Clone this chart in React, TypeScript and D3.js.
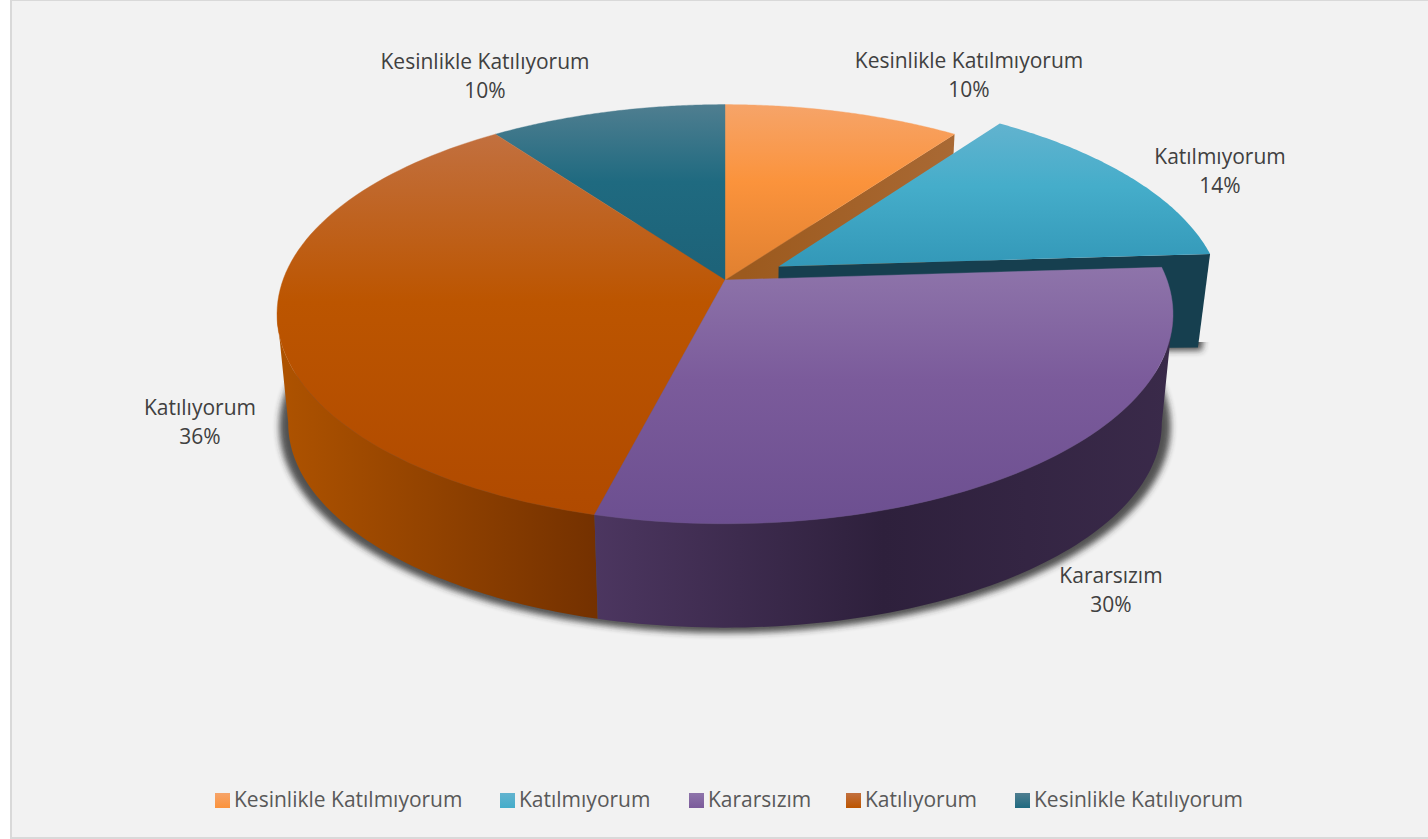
import React from "react";
import * as d3 from "d3";

const categories = ["Kesinlikle Katılmıyorum", "Katılmıyorum", "Kararsızım", "Katılıyorum", "Kesinlikle Katılıyorum"];
const values = [10, 14, 30, 36, 10];
const explode = [0, 0.14, 0, 0, 0];
const topLight = ["#f6a469", "#62b3cf", "#8e74aa", "#c2703f", "#4f7e90"];
const topBase = ["#fb933c", "#45adca", "#7b5b9b", "#bc5500", "#1f6a80"];
const topDark = ["#e08030", "#3398b8", "#6c4f90", "#b04a00", "#1d6278"];
const labelX = [969, 1220, 1111, 200, 485];
const labelY = [60.5, 156.5, 575.5, 407.5, 61.5];
const legendSwatchX = [215, 500, 689, 846, 1015];

const FONT = "'Open Sans', sans-serif";
const cx = 725, cy = 280, S = 442, K = 204, P = 0.163;
const DROP = 110, F = 0.975;
const TANGENT = Math.acos(-0.16);

const arcs = d3.pie<number>().sort(null).startAngle(0).endAngle(2 * Math.PI)(values);
const line = d3.line<[number, number]>();

function project(t: number, r: number, i: number): [number, number] {
  const mid = (arcs[i].startAngle + arcs[i].endAngle) / 2;
  const X = r * Math.sin(t) + explode[i] * Math.sin(mid);
  const Z = r * Math.cos(t) + explode[i] * Math.cos(mid);
  const w = 1 + P * Z;
  return [cx + (S * X) / w, cy - (K * Z) / w];
}
const lower = ([x, y]: [number, number]): [number, number] => [cx + (x - cx) * F, cy + DROP + (y - cy) * F];
// the exploded slice sits further back, so its lower edge is flatter and higher
const lowerExploded = ([x, y]: [number, number]): [number, number] => [cx + (x - cx) * F, cy + 76 + (y - cy) * 0.33];

function rim(a: number, b: number, i: number): [number, number][] {
  return d3.range(0, 81).map((k) => project(a + ((b - a) * k) / 80, 1, i));
}
const closed = (pts: [number, number][]) => line(pts) + "Z";

function topPath(i: number) {
  return closed([project(0, 0, i), ...rim(arcs[i].startAngle, arcs[i].endAngle, i)]);
}
function wallPath(a: number, b: number, i: number) {
  const top = rim(a, b, i);
  return closed([...top, ...top.map(lower).reverse()]);
}
function cutFace(t: number, i: number, low: typeof lower) {
  const a = project(0, 0, i), b = project(t, 1, i);
  return closed([a, b, low(b), low(a)]);
}
const shadowRim = d3.range(0, 121).map((k) => {
  const [x, y] = project((k / 120) * 2 * Math.PI, 1, 0);
  return [cx + (x - cx) * 0.995, cy + DROP + 3 + (y - cy) * 0.985] as [number, number];
});

export default function App() {
  const depth = [0, 1, 2, 3, 4];
  return (
    <svg width={1428} height={839} style={{ position: "absolute", left: 0, top: 0, background: "#fff" }}>
      <defs>
        {depth.map((i) => (
          <linearGradient key={i} id={`top${i}`} x1="0" y1="0" x2="0" y2="1">
            <stop offset="0" stopColor={topLight[i]} />
            <stop offset="0.44" stopColor={topBase[i]} />
            <stop offset="1" stopColor={topDark[i]} />
          </linearGradient>
        ))}
        {depth.map((i) => (
          <linearGradient key={i} id={`leg${i}`} x1="0" y1="0" x2="0" y2="1">
            <stop offset="0" stopColor={topLight[i]} />
            <stop offset="1" stopColor={topBase[i]} />
          </linearGradient>
        ))}
        <linearGradient id="wallOrange" gradientUnits="userSpaceOnUse" x1="285" y1="0" x2="596" y2="0">
          <stop offset="0" stopColor="#ad5200" />
          <stop offset="1" stopColor="#743100" />
        </linearGradient>
        <linearGradient id="wallPurple" gradientUnits="userSpaceOnUse" x1="595" y1="0" x2="1172" y2="0">
          <stop offset="0" stopColor="#4c3660" />
          <stop offset="0.5" stopColor="#2e203c" />
          <stop offset="1" stopColor="#3a2a4a" />
        </linearGradient>
        <linearGradient id="faceOrange" gradientUnits="userSpaceOnUse" x1="745" y1="0" x2="955" y2="0">
          <stop offset="0" stopColor="#9c5a1e" />
          <stop offset="1" stopColor="#a96934" />
        </linearGradient>
        <filter id="blur" x="-10%" y="-10%" width="120%" height="120%">
          <feGaussianBlur stdDeviation="3" />
        </filter>
        <clipPath id="lowEdge"><rect x={1100} y={342} width={130} height={30} /></clipPath>
      </defs>

      <rect x={11} y={0} width={1420} height={838} fill="#f2f2f2" stroke="#d9d9d9" strokeWidth={2} />

      <path d={closed(shadowRim)} fill="#2a2a2a" opacity={0.8} filter="url(#blur)" />
      <g clipPath="url(#lowEdge)">
        <path d={cutFace(arcs[1].endAngle, 1, lowerExploded)} transform="translate(4,3)" fill="#2a2a2a" opacity={0.8} filter="url(#blur)" />
      </g>

      <path d={cutFace(arcs[0].endAngle, 0, lower)} fill="url(#faceOrange)" />
      <path d={cutFace(arcs[1].endAngle, 1, lowerExploded)} fill="#163f4f" />
      <path d={topPath(1)} fill="url(#top1)" />

      <path d={wallPath(arcs[3].startAngle, 2 * Math.PI - TANGENT, 3)} fill="url(#wallOrange)" />
      <path d={wallPath(TANGENT, arcs[2].endAngle, 2)} fill="url(#wallPurple)" />
      {[0, 4, 3, 2].map((i) => (
        <path key={i} d={topPath(i)} fill={`url(#top${i})`} stroke={`url(#top${i})`} strokeWidth={0.4} />
      ))}

      {depth.map((i) => (
        <text key={i} textAnchor="middle" fontFamily={FONT} fontSize={21} fill="#404040">
          <tspan x={labelX[i]} y={labelY[i] + 7}>{categories[i]}</tspan>
          <tspan x={labelX[i]} y={labelY[i] + 36.5}>{values[i]}%</tspan>
        </text>
      ))}

      {depth.map((i) => (
        <g key={i}>
          <rect x={legendSwatchX[i]} y={793} width={15} height={15} fill={`url(#leg${i})`} />
          <text x={legendSwatchX[i] + 19} y={807} fontFamily={FONT} fontSize={21} fill="#595959">{categories[i]}</text>
        </g>
      ))}
    </svg>
  );
}
